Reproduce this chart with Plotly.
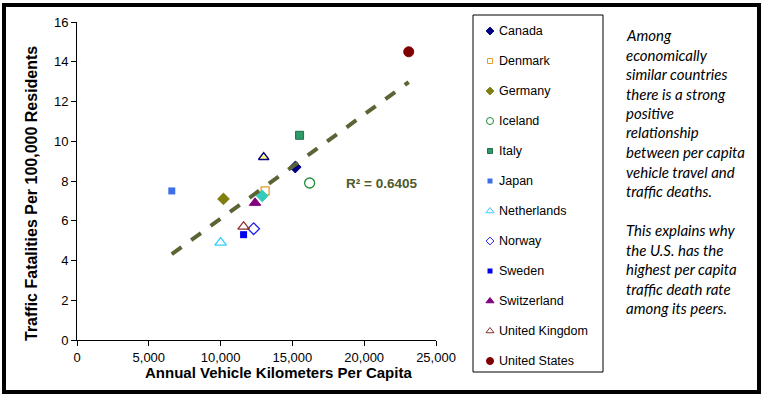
import plotly.graph_objects as go
import numpy as np

# ---- data ----
countries = ["Canada", "Denmark", "Germany", "Iceland", "Italy", "Japan",
             "Netherlands", "Norway", "Sweden", "Switzerland", "United Kingdom",
             "United States"]
vkt = [15200, 13100, 10200, 16200, 15500, 6600, 10000, 12300, 11600, 12400, 11600, 23100]
fatalities = [8.7, 7.5, 7.1, 7.9, 10.3, 7.5, 4.9, 5.6, 5.3, 6.9, 5.7, 14.5]

# two points plotted without a legend entry
extra_names = ["Unlabeled A", "Unlabeled B"]
extra_vkt = [13000, 12900]
extra_fat = [9.2, 7.25]

r2_label = "R² = 0.6405"
x_ticks = [0, 5000, 10000, 15000, 20000, 25000]
y_ticks = [0, 2, 4, 6, 8, 10, 12, 14, 16]

note_lines = ["Among", "economically", "similar countries", "there is a strong",
              "positive", "relationship", "between per capita", "vehicle travel and",
              "traffic deaths.", "", "This explains why", "the U.S. has the",
              "highest per capita", "traffic death rate", "among its peers."]

# ---- styles ----
styles = {
    "Canada": dict(symbol="diamond", size=9, color="#000080", line=dict(color="#000080", width=1)),
    "Denmark": dict(symbol="square-open", size=8, color="#E39B2B", line=dict(color="#E39B2B", width=1.3)),
    "Germany": dict(symbol="diamond", size=9, color="#7F7F10", line=dict(color="#7F7F10", width=1)),
    "Iceland": dict(symbol="circle-open", size=10, color="#1E8C3A", line=dict(color="#1E8C3A", width=1.3)),
    "Italy": dict(symbol="square", size=8, color="#2E9A6A", line=dict(color="#1E6E4A", width=1)),
    "Japan": dict(symbol="square", size=7, color="#3F6FE8", line=dict(color="#3F6FE8", width=0)),
    "Netherlands": dict(symbol="triangle-up-open", size=10, color="#33CCFF", line=dict(color="#33CCFF", width=1.3)),
    "Norway": dict(symbol="diamond-open", size=9, color="#2222EE", line=dict(color="#2222EE", width=1.3)),
    "Sweden": dict(symbol="square", size=7, color="#0000F0", line=dict(color="#0000F0", width=0)),
    "Switzerland": dict(symbol="triangle-up", size=10, color="#800080", line=dict(color="#800080", width=1)),
    "United Kingdom": dict(symbol="triangle-up-open", size=10, color="#8B2E2E", line=dict(color="#8B2E2E", width=1.3)),
    "United States": dict(symbol="circle", size=10, color="#800000", line=dict(color="#800000", width=1)),
}
extra_styles = [
    dict(symbol="triangle-up", size=9, color="#FFFF80", line=dict(color="#000080", width=1.5)),
    dict(symbol="diamond", size=9, color="#33CCBB", line=dict(color="#33CCBB", width=1)),
]

W, H = 764, 396


def fx(x):
    return x / W


def fy(y):
    return 1 - y / H


font = "Arial, Liberation Sans, sans-serif"

fig = go.Figure()
for name, xv, yv in zip(countries, vkt, fatalities):
    s = styles[name]
    fig.add_trace(go.Scatter(
        x=[xv], y=[yv], mode="markers", name=name,
        marker=dict(symbol=s["symbol"], size=s["size"], color=s["color"], line=s["line"]),
    ))
for name, xv, yv, s in zip(extra_names, extra_vkt, extra_fat, extra_styles):
    fig.add_trace(go.Scatter(
        x=[xv], y=[yv], mode="markers", name=name,
        marker=dict(symbol=s["symbol"], size=s["size"], color=s["color"], line=s["line"]),
    ))

# linear trendline over all points
all_x = np.array(vkt + extra_vkt, dtype=float)
all_y = np.array(fatalities + extra_fat, dtype=float)
slope, intercept = np.polyfit(all_x, all_y, 1)
tx = np.array([all_x.min(), all_x.max()])
fig.add_trace(go.Scatter(
    x=tx, y=slope * tx + intercept, mode="lines", name="Trend",
    line=dict(color="#5A6536", width=4, dash="dash"), hoverinfo="skip",
))

# ---- legend (drawn in its own pixel-scaled axes) ----
LX0, LX1, LY0, LY1 = 473, 603, 15, 372
item_y = [31 + 30 * i for i in range(len(countries))]
for name, iy in zip(countries, item_y):
    s = styles[name]
    sz = max(5, s["size"] - 3)
    fig.add_trace(go.Scatter(
        x=[490], y=[iy], mode="markers", xaxis="x2", yaxis="y2", hoverinfo="skip",
        marker=dict(symbol=s["symbol"], size=sz, color=s["color"],
                    line=dict(color=s["line"]["color"], width=min(1, s["line"]["width"]))),
    ))

annotations = [
    dict(x=21170, y=7.85, xref="x", yref="y", xanchor="center", yanchor="middle",
         text="<b>" + r2_label + "</b>", showarrow=False,
         font=dict(family=font, size=13.5, color="#4F5A2A")),
    dict(x=fx(278), y=fy(372), xref="paper", yref="paper", xanchor="center", yanchor="middle",
         text="<b>Annual Vehicle Kilometers Per Capita</b>", showarrow=False,
         font=dict(family=font, size=15, color="black")),
    dict(x=fx(32), y=fy(194), xref="paper", yref="paper", xanchor="center", yanchor="middle",
         textangle=-90,
         text="<b>Traffic Fatalities Per 100,000 Residents</b>", showarrow=False,
         font=dict(family=font, size=16, color="black")),
]
for name, iy in zip(countries, item_y):
    annotations.append(dict(x=497, y=iy, xref="x2", yref="y2", xanchor="left", yanchor="middle",
                            text=name, showarrow=False,
                            font=dict(family=font, size=12.5, color="black")))
for i, line in enumerate(note_lines):
    if not line:
        continue
    annotations.append(dict(
        x=fx(624), y=fy(35 + i * 19.5), xref="paper", yref="paper", xanchor="left",
        yanchor="middle", text="<i>" + line + "</i>", showarrow=False,
        font=dict(family="Lato, Open Sans, sans-serif", size=15, color="black")))

fig.update_layout(
    width=W, height=H,
    margin=dict(l=0, r=0, t=0, b=0, autoexpand=False),
    paper_bgcolor="white", plot_bgcolor="white",
    showlegend=False,
    xaxis=dict(domain=[fx(77), fx(436)], range=[0, 25000], tickvals=x_ticks, tickformat=",d",
               showgrid=False, zeroline=False, showline=True, linecolor="black", linewidth=1,
               ticks="outside", ticklen=5, tickcolor="black",
               tickfont=dict(family=font, size=13, color="black")),
    yaxis=dict(domain=[fy(340), fy(22)], range=[0, 16], tickvals=y_ticks, showgrid=False,
               zeroline=False, showline=True, linecolor="black", linewidth=1,
               ticks="outside", ticklen=5, tickcolor="black",
               tickfont=dict(family=font, size=13, color="black")),
    xaxis2=dict(domain=[fx(LX0), fx(LX1)], range=[LX0, LX1], visible=False, fixedrange=True),
    yaxis2=dict(domain=[fy(LY1), fy(LY0)], range=[LY1, LY0], visible=False, fixedrange=True),
    annotations=annotations,
    shapes=[
        dict(type="rect", xref="paper", yref="paper",
             x0=fx(LX0), x1=fx(LX1), y0=fy(LY1), y1=fy(LY0),
             line=dict(color="black", width=1), fillcolor="rgba(0,0,0,0)"),
        dict(type="rect", xref="paper", yref="paper",
             x0=fx(4), x1=fx(759), y0=fy(392), y1=fy(5),
             line=dict(color="black", width=4), fillcolor="rgba(0,0,0,0)"),
    ],
)

fig.write_html("out.html", config={"displayModeBar": False},
               post_script="document.body.style.margin='0';document.body.style.overflow='hidden';")
